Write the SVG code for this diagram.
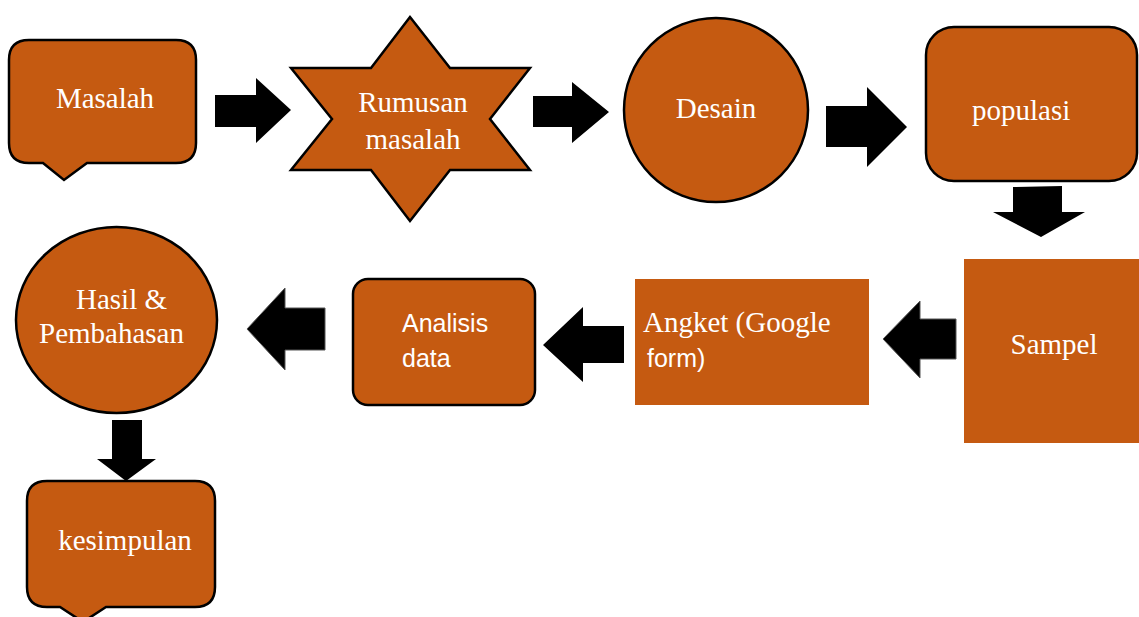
<svg xmlns="http://www.w3.org/2000/svg" width="1139" height="617" viewBox="0 0 1139 617">
<style>
.shape{fill:#C55A11;stroke:#000;stroke-width:2.5}
.flat{fill:#C55A11;stroke:none}
.arrow{fill:#000;stroke:none}
.arrow2{fill:#000;stroke:#555;stroke-width:1;stroke-linejoin:round}
.serif{font-family:"Liberation Serif","Times New Roman",serif;font-size:29px;fill:#fff}
.sans{font-family:"Liberation Sans",Arial,sans-serif;font-size:25px;fill:#fff}
</style>
<rect width="1139" height="617" fill="#fff"/>
<g id="connectors">
<polygon class="arrow" points="215,95 256,95 256,78 291,110 256,143 256,127 215,127"/>
<polygon class="arrow" points="533,96 572,96 572,82 609,112 572,143 572,127 533,127"/>
<polygon class="arrow" points="826,106 867,106 867,87 907,127 867,167 867,147 826,147"/>
<polygon class="arrow" points="1013,187 1062,186 1062,212 1085,212 1041,237 993,212 1013,212"/>
<polygon class="arrow2" points="956,319 920,319 920,301 883,339 920,378 920,359 956,359"/>
<polygon class="arrow" points="624,326 583,326 583,307 543,345 583,382 583,363 624,363"/>
<polygon class="arrow2" points="325,308 285,308 285,288 247,329 285,370 285,350 325,350"/>
<polygon class="arrow" points="112,420 142,420 142,459 156,459 126,481 97,459 112,459"/>
</g>
<g id="node-masalah">
<path class="shape" d="M29,40 H176 Q196,40 196,60 V143 Q196,163 176,163 H87 L64,180 L43,163 H29 Q9,163 9,143 V60 Q9,40 29,40 Z"/>
<text class="serif" x="105" y="108" text-anchor="middle">Masalah</text>
</g>
<g id="node-rumusan">
<polygon class="shape" points="410,17 450,68 530,68 490,119 530,170 450,170 410,221 371,170 291,170 332,119 291,68 371,68"/>
<text class="serif" x="413" y="112" text-anchor="middle">Rumusan</text>
<text class="serif" x="413" y="149" text-anchor="middle">masalah</text>
</g>
<g id="node-desain">
<circle class="shape" cx="716" cy="110" r="92"/>
<text class="serif" x="716" y="118" text-anchor="middle">Desain</text>
</g>
<g id="node-populasi">
<rect class="shape" x="926" y="27" width="211" height="154" rx="28"/>
<text class="serif" x="972" y="120">populasi</text>
</g>
<g id="node-sampel">
<rect class="flat" x="964" y="259" width="175" height="184"/>
<text class="serif" x="1054" y="354" text-anchor="middle">Sampel</text>
</g>
<g id="node-angket">
<rect class="flat" x="635" y="279" width="234" height="126"/>
<text class="serif" x="643" y="332">Angket (Google</text>
<text class="sans" x="647" y="367">form)</text>
</g>
<g id="node-analisis">
<rect class="shape" x="353" y="279" width="182" height="126" rx="15"/>
<text class="sans" x="402" y="332">Analisis</text>
<text class="sans" x="402" y="367">data</text>
</g>
<g id="node-hasil">
<ellipse class="shape" cx="116.5" cy="320" rx="100.5" ry="93"/>
<text class="serif" x="76" y="309">Hasil &amp;</text>
<text class="serif" x="39" y="343">Pembahasan</text>
</g>
<g id="node-kesimpulan">
<path class="shape" d="M47,481 H195 Q215,481 215,501 V587 Q215,607 195,607 H106 L83,622 L60,607 H47 Q27,607 27,587 V501 Q27,481 47,481 Z"/>
<text class="serif" x="125" y="550" text-anchor="middle">kesimpulan</text>
</g>
</svg>
